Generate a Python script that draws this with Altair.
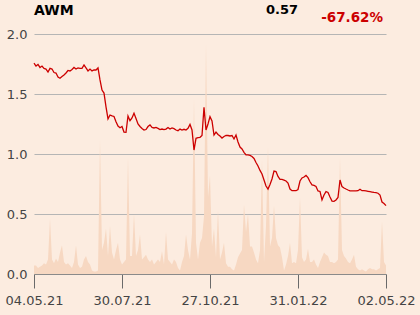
import altair as alt
import pandas as pd

# x-axis tick labels (trading-day index positions)
tick_labels = ["04.05.21", "30.07.21", "27.10.21", "31.01.22", "02.05.22"]
tick_index = [0, 44, 88, 132, 176]

# closing price series
price = [
    1.758, 1.733, 1.746, 1.721, 1.733, 1.713, 1.708, 1.683, 1.714, 1.708,
    1.679, 1.675, 1.642, 1.631, 1.646, 1.658, 1.675, 1.696, 1.692, 1.704,
    1.721, 1.708, 1.717, 1.713, 1.714, 1.742, 1.717, 1.692, 1.708, 1.692,
    1.700, 1.700, 1.717, 1.617, 1.533, 1.508, 1.392, 1.292, 1.325, 1.317,
    1.313, 1.269, 1.233, 1.219, 1.229, 1.183, 1.181, 1.317, 1.278, 1.300,
    1.339, 1.296, 1.250, 1.229, 1.213, 1.200, 1.204, 1.229, 1.242, 1.221,
    1.217, 1.221, 1.214, 1.204, 1.208, 1.204, 1.208, 1.221, 1.208, 1.217,
    1.211, 1.200, 1.194, 1.208, 1.200, 1.206, 1.200, 1.214, 1.246, 1.200,
    1.033, 1.131, 1.136, 1.139, 1.154, 1.389, 1.200, 1.250, 1.311, 1.275,
    1.158, 1.183, 1.163, 1.150, 1.133, 1.146, 1.154, 1.154, 1.150, 1.154,
    1.125, 1.158, 1.100, 1.058, 1.042, 1.014, 0.992, 0.992, 0.988, 0.979,
    0.963, 0.929, 0.900, 0.863, 0.833, 0.783, 0.733, 0.708, 0.746, 0.792,
    0.858, 0.854, 0.813, 0.789, 0.789, 0.783, 0.775, 0.758, 0.708, 0.694,
    0.694, 0.694, 0.704, 0.775, 0.800, 0.808, 0.821, 0.803, 0.769, 0.742,
    0.738, 0.729, 0.692, 0.688, 0.617, 0.658, 0.686, 0.679, 0.642, 0.608,
    0.606, 0.617, 0.638, 0.783, 0.728, 0.717, 0.708, 0.700, 0.693, 0.692,
    0.692, 0.692, 0.694, 0.706, 0.694, 0.694, 0.692, 0.689, 0.686, 0.683,
    0.680, 0.678, 0.673, 0.658, 0.600, 0.588, 0.570,
]

# traded volume (drawn in price-axis units)
volume = [
    0.07, 0.07, 0.05, 0.06, 0.07, 0.09, 0.08, 0.12, 0.46, 0.12,
    0.09, 0.13, 0.10, 0.18, 0.24, 0.10, 0.08, 0.09, 0.07, 0.05,
    0.10, 0.24, 0.08, 0.05, 0.06, 0.12, 0.15, 0.10, 0.08, 0.03,
    0.02, 0.02, 0.03, 1.12, 0.20, 0.26, 0.38, 0.15, 0.40, 0.18,
    0.12, 0.20, 0.26, 0.12, 0.08, 0.10, 0.12, 0.97, 0.15, 0.15,
    0.50, 0.15, 0.20, 0.33, 0.12, 0.14, 0.16, 0.12, 0.10, 0.12,
    0.08, 0.10, 0.12, 0.10, 0.19, 0.08, 0.35, 0.12, 0.10, 0.08,
    0.12, 0.10, 0.05, 0.03, 0.10, 0.15, 0.33, 0.20, 0.12, 0.34,
    1.46, 0.26, 0.12, 0.26, 0.30, 0.48, 1.92, 0.64, 0.82, 0.23,
    0.38, 0.14, 0.53, 0.12, 0.18, 0.26, 0.09, 0.06, 0.06, 0.04,
    0.03, 0.08, 0.14, 0.17, 0.20, 0.58, 0.35, 0.50, 0.23, 0.23,
    0.18, 0.12, 0.09, 0.20, 0.95, 0.10, 0.40, 1.06, 0.23, 0.30,
    0.57, 0.30, 0.24, 0.22, 0.14, 0.03, 0.08, 0.15, 0.26, 0.09,
    0.10, 0.09, 0.20, 0.64, 0.14, 0.10, 0.12, 0.21, 0.10, 0.10,
    0.12, 0.08, 0.05, 0.10, 0.14, 0.18, 0.16, 0.15, 0.10, 0.10,
    0.09, 0.10, 0.12, 0.97, 0.20, 0.15, 0.13, 0.10, 0.09, 0.12,
    0.16, 0.06, 0.04, 0.03, 0.04, 0.03, 0.02, 0.04, 0.05, 0.04,
    0.04, 0.03, 0.04, 0.05, 0.44, 0.10, 0.07,
]

n = min(len(price), len(volume))
df = pd.DataFrame({"i": list(range(n)), "price": price[:n], "volume": volume[:n]})

title_text = "AWM"
last_price = "0.57"
change_text = "-67.62%"

label_expr = ""
for idx, lab in zip(tick_index, tick_labels):
    label_expr += f"datum.value == {idx} ? '{lab}' : "
label_expr += "''"

FONT = "DejaVu Sans"
BG = "#fcece0"

x_enc = alt.X(
    "i:Q",
    scale=alt.Scale(domain=[0, n - 1], nice=False, zero=False),
    axis=alt.Axis(
        values=tick_index, labelExpr=label_expr, title=None, grid=False,
        domainColor="#8a8a8a", tickColor="#6a6a6a", tickSize=14, labelPadding=6,
        labelFont=FONT, labelFontSize=13, labelColor="#444444", labelFlush=False,
    ),
)
y_scale = alt.Scale(domain=[0, 2], nice=False)
y_axis = alt.Axis(
    values=[0, 0.5, 1.0, 1.5, 2.0], format=".1f", title=None,
    domain=False, ticks=False, gridColor="#b5b5b5", gridWidth=1,
    labelPadding=7, labelFont=FONT, labelFontSize=13, labelColor="#444444",
)

area = alt.Chart(df).mark_area(color="#f7d8c2", opacity=1).encode(
    x=x_enc,
    y=alt.Y("volume:Q", scale=y_scale, axis=y_axis),
)

line = alt.Chart(df).mark_line(color="#cc0000", strokeWidth=1.3).encode(
    x=x_enc,
    y=alt.Y("price:Q", scale=y_scale, axis=y_axis),
)

t1 = alt.Chart(pd.DataFrame({"t": [title_text]})).mark_text(
    font=FONT, fontSize=14, fontWeight="bold", color="#000000", align="left", baseline="alphabetic"
).encode(x=alt.value(0), y=alt.value(-19), text="t:N")

t2 = alt.Chart(pd.DataFrame({"t": [last_price]})).mark_text(
    font=FONT, fontSize=13, fontWeight="bold", color="#000000", align="right", baseline="alphabetic"
).encode(x=alt.value(264), y=alt.value(-20), text="t:N")

t3 = alt.Chart(pd.DataFrame({"t": [change_text]})).mark_text(
    font=FONT, fontSize=13.5, fontWeight="bold", color="#cc0000", align="right", baseline="alphabetic"
).encode(x=alt.value(349), y=alt.value(-12), text="t:N")

chart = alt.layer(area, line, t1, t2, t3).properties(
    width=352, height=240,
    padding={"left": 34, "top": 34, "right": 34, "bottom": 41},
    autosize=alt.AutoSizeParams(type="none"),
    background=BG,
).configure_view(stroke=None)

chart.save("out.html", embed_options={"renderer": "svg", "actions": False})
